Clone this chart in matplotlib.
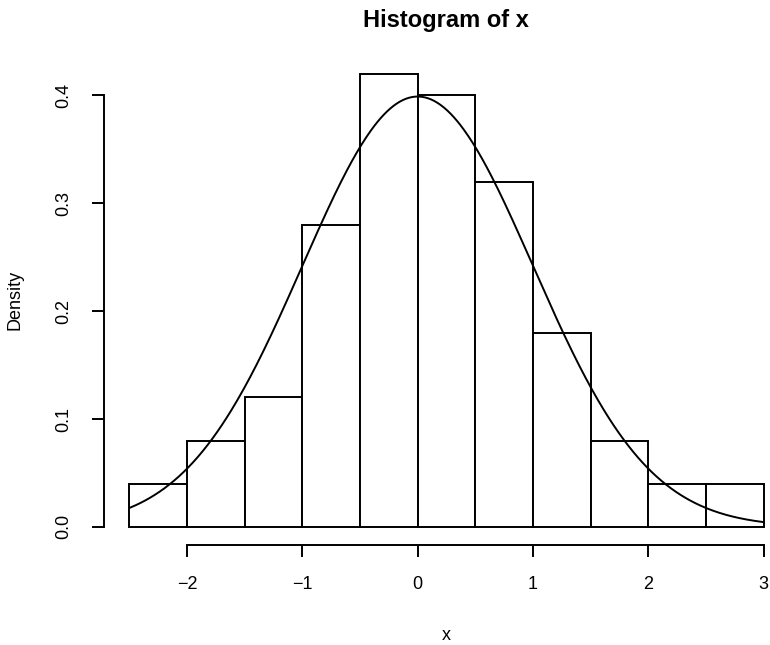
"""
Histogram of x with a standard normal density overlay (R base-graphics look).
"""

import numpy as np
import matplotlib
matplotlib.use("Agg")
import matplotlib.pyplot as plt

plt.rcParams["font.family"] = ["Liberation Sans", "DejaVu Sans"]

# histogram data
breaks = [-2.5, -2.0, -1.5, -1.0, -0.5, 0.0, 0.5, 1.0, 1.5, 2.0, 2.5, 3.0]
density = [0.04, 0.08, 0.12, 0.28, 0.42, 0.40, 0.32, 0.18, 0.08, 0.04, 0.04]
x_ticks = [-2, -1, 0, 1, 2, 3]
x_tick_labels = ["\u22122", "\u22121", "0", "1", "2", "3"]
y_ticks = [0.0, 0.1, 0.2, 0.3, 0.4]
y_tick_labels = ["0.0", "0.1", "0.2", "0.3", "0.4"]

# overlaid model curve: dnorm(x, mean=0, sd=1)
mu, sigma = 0.0, 1.0

W, H = 770, 645
fig = plt.figure(figsize=(W / 100, H / 100), dpi=100)
ax = fig.add_axes([104 / W, 100 / H, (789 - 104) / W, (545 - 55.7) / H])

lw = 1.4
widths = np.diff(breaks)
ax.bar(breaks[:-1], density, width=widths, align="edge",
       facecolor="white", edgecolor="black", linewidth=lw)

xs = np.linspace(breaks[0], breaks[-1], 400)
ys = np.exp(-0.5 * ((xs - mu) / sigma) ** 2) / (sigma * np.sqrt(2 * np.pi))
ax.plot(xs, ys, color="black", linewidth=lw)

# R-style 4% padding
xr = breaks[-1] - breaks[0]
ymax = max(density)
ax.set_xlim(breaks[0] - 0.04 * xr, breaks[-1] + 0.04 * xr)
ax.set_ylim(-0.04 * ymax, ymax * 1.04)

for side in ("top", "right"):
    ax.spines[side].set_visible(False)
ax.spines["bottom"].set_bounds(x_ticks[0], x_ticks[-1])
ax.spines["left"].set_bounds(y_ticks[0], y_ticks[-1])
ax.spines["bottom"].set_linewidth(lw)
ax.spines["left"].set_linewidth(lw)

ax.set_xticks(x_ticks)
ax.set_xticklabels(x_tick_labels)
ax.set_yticks(y_ticks)
ax.set_yticklabels(y_tick_labels, rotation=90, va="center")
ax.tick_params(length=8.6, width=lw, labelsize=13, pad=14)

fig.text(446 / W, 1 - 27 / H, "Histogram of x", ha="center", va="baseline",
         fontsize=17, fontweight="bold")
fig.text(446 / W, 5 / H, "x", ha="center", va="baseline", fontsize=13)
fig.text(15 / W, 1 - 300 / H, "Density", ha="center", va="center",
         rotation=90, fontsize=13)

fig.savefig("out.png", dpi=100)
